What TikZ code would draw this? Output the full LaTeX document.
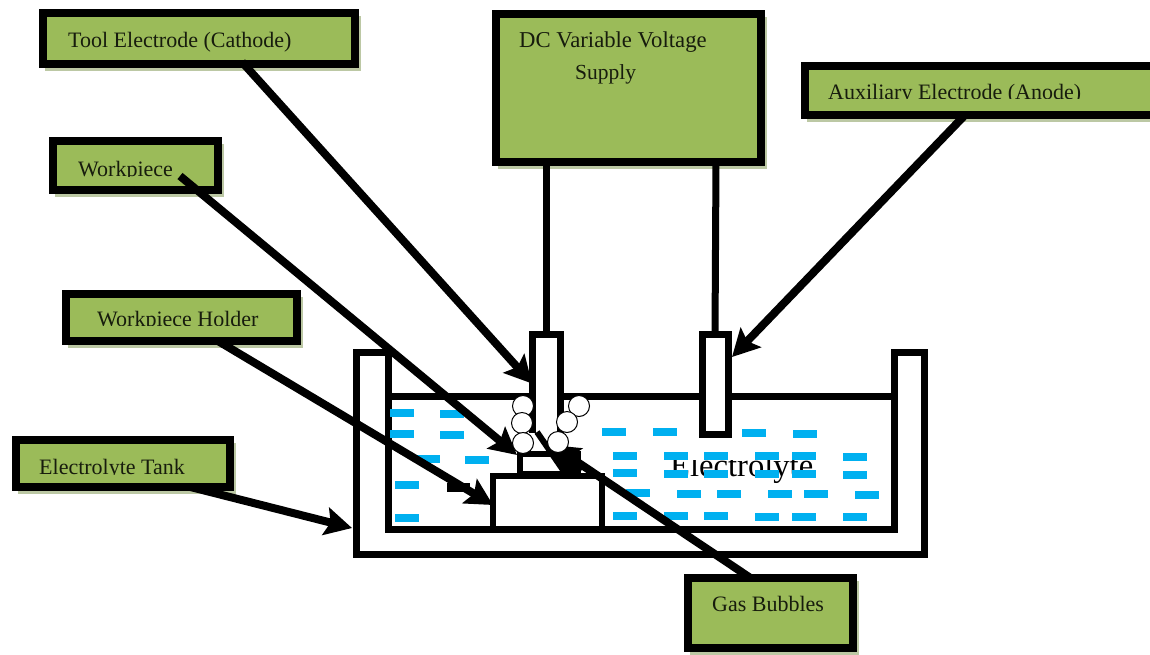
\documentclass[tikz,border=0pt]{standalone}
\usepackage{fontspec}
\setmainfont{Liberation Serif}
\usetikzlibrary{arrows.meta,calc}
\definecolor{boxgreen}{HTML}{9BBB59}
\definecolor{boxshade}{HTML}{BCC8A4}
\definecolor{dashblue}{HTML}{00B0F0}
\tikzset{
  labelbox/.style={draw=black,line width=8pt,fill=boxgreen,inner sep=0pt,outer sep=0pt},
  part/.style={fill=white,inner sep=0pt,outer sep=0pt},
  wall/.style={draw=black,line width=7pt,line join=miter},
  wire/.style={draw=black,line width=7pt},
  conn/.style={draw=black,line width=8pt,-{Stealth[length=27pt,width=28pt,inset=5pt]}},
  bubble/.style={circle,draw=black,line width=1pt,fill=white,minimum size=21pt,inner sep=0pt},
  lab/.style={anchor=base west,inner sep=0pt,font=\fontsize{22}{24}\selectfont,text=black!85!boxgreen},
  dashbar/.style={fill=dashblue}
}
\newcommand{\lbox}[5]{%
  \fill[boxshade] (#2+2,#3+3) rectangle (#4+6,#5+7);
  \node[labelbox,minimum width={(#4-#2)*1pt},minimum height={(#5-#3)*1pt}] (#1) at ({(#2+#4)/2},{(#3+#5)/2}) {};
}
\begin{document}
\begin{tikzpicture}[x=1pt,y=-1pt]
\useasboundingbox (0,0) rectangle (1150,654);
% label boxes
\lbox{tool}{43}{13}{355}{64}
\lbox{wp}{53}{141}{218}{190}
\lbox{holder}{65.5}{294}{296.5}{341}
\lbox{tank}{15.5}{440}{229.5}{487}
\lbox{dc}{496}{14}{761}{162}
\lbox{aux}{805}{66}{1155}{115}
\lbox{gas}{688}{578}{853}{648}
% labels
\node[lab] (ltool) at (68,47) {Tool Electrode (Cathode)};
\begin{scope}
\clip (60,150) rectangle (210,176.5);
\node[lab] (lwp) at (78,176) {Workpiece};
\end{scope}
\begin{scope}
\clip (70,300) rectangle (290,325.5);
\node[lab] (lholder) at (97,326) {Workpiece Holder};
\end{scope}
\begin{scope}
\clip (20,445) rectangle (225,474);
\node[lab] (ltank) at (39,474) {Electrolyte Tank};
\end{scope}
\node[lab,font=\fontsize{22.7}{24}\selectfont] (ldc) at (519,47) {DC Variable Voltage};
\node[lab,font=\fontsize{21.5}{24}\selectfont] (lsup) at (575,79) {Supply};
\begin{scope}
\clip (810,72) rectangle (1140,98.5);
\node[lab] (laux) at (828,99) {Auxiliary Electrode (Anode)};
\end{scope}
\node[lab] (lgas) at (712,611) {Gas Bubbles};
% tank
\draw[wall,fill=white] (356,554) -- (356,352) -- (388,352) -- (388,529) -- (894,529) -- (894,352) -- (924,352) -- (924,554) -- cycle;
\draw[wall] (388,396) -- (894,396);
% electrolyte text, clipped at the top
\begin{scope}
\clip (660,460.5) rectangle (825,490);
\node[anchor=base west,inner sep=0pt,font=\fontsize{32.6}{36}\selectfont] (lel) at (670,476) {Electrolyte};
\end{scope}
% blue dashes
\foreach \x/\y in {402/413,452/414,402/434,452/435,428/459,477/460,407/485,407/518,
  614/432,665/432,754/433,805/434,
  625/456,676/456,716/456,767/456,804/456,855/457,
  625/473,676/474,716/474,767/474,804/474,855/475,
  638/493,689/494,729/494,780/494,816/494,867/495,
  625/516,676/516,716/516,767/517,804/517,855/517}
  \fill[dashbar] (\x-12,\y-4) rectangle (\x+12,\y+4);
% electrodes
\node[part,minimum width=28pt,minimum height=99pt] (cath) at (546,383.5) {};
\node[part,minimum width=26pt,minimum height=100pt] (anode) at (715,384) {};
\draw[wall] (cath.south west) -- (cath.north west) -- (cath.north east) -- (cath.south east);
\draw[wall] (anode.south west) -- (anode.north west) -- (anode.north east) -- (anode.south east) -- cycle;
% wires
\draw[wire] ([xshift=-82.5pt]dc.south) -- (cath.north);
\draw[wire] ([xshift=87.5pt]dc.south) -- (anode.north);
% work
\node[part,draw=black,line width=6pt,minimum width=109pt,minimum height=53pt] (block) at (547.5,502.5) {};
\node[part,draw=black,line width=6pt,minimum width=58pt,minimum height=20pt] (piece) at (549,464) {};
\draw[draw=black,line width=6pt] (537,432) -- (563,470);
% connectors
\coordinate (tanktip) at (352,528);
\coordinate (gastip) at (552,445);
\coordinate (wpstart) at (180,176);
\draw[conn] ([xshift=43pt,yshift=2pt]tool.south) -- (cath.west);
\draw[conn] (wpstart) -- ([xshift=-3pt,yshift=-1pt]piece.north west);
\draw[conn] ([xshift=37pt]holder.south) -- ([yshift=-2.5pt]block.west);
\draw[conn] ([xshift=68pt]tank.south) -- (tanktip);
\draw[conn] ([xshift=-15pt]aux.south) -- ([xshift=4pt,yshift=27pt]anode.east);
\draw[conn] ([xshift=-20pt]gas.north) -- (gastip);
\fill[black] (447,483) rectangle (470,492);
\fill[black] (555,452) -- (577,450) -- (582,470) -- (570,478) -- (560,470) -- cycle;
% bubbles
\node[bubble] (b1) at (523,406) {};
\node[bubble] (b2) at (522,423) {};
\node[bubble] (b3) at (523,443) {};
\node[bubble] (b4) at (579,406) {};
\node[bubble] (b5) at (567,422) {};
\node[bubble] (b6) at (558,442) {};
\end{tikzpicture}
\end{document}
